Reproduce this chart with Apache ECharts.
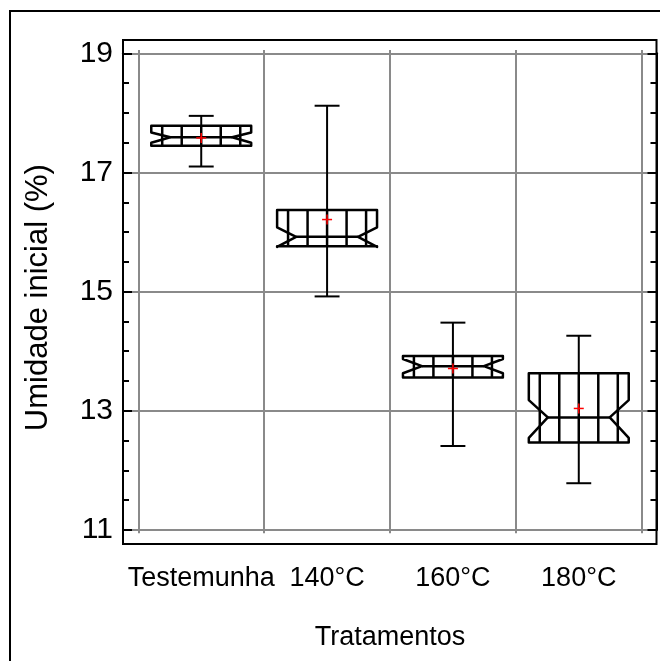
<!DOCTYPE html>
<html>
<head>
<meta charset="utf-8">
<script src="https://cdn.jsdelivr.net/npm/echarts@6/dist/echarts.min.js"></script>
<style>html,body{margin:0;padding:0;background:#fff}#c{width:660px;height:661px}</style>
</head>
<body>
<div id="c"></div>
<script>
const categories = ['Testemunha', '140°C', '160°C', '180°C'];
const whiskerLow  = [17.10, 14.92, 12.41, 11.785];
const q1          = [17.45, 15.76, 13.56, 12.47];
const notchLow    = [17.50, 15.75, 13.63, 12.545];
const median      = [17.59, 15.92, 13.75, 12.89];
const notchHigh   = [17.67, 16.08, 13.87, 13.18];
const q3          = [17.785, 16.37, 13.92, 13.63];
const whiskerHigh = [17.95, 18.12, 14.48, 14.26];
const means       = [17.58, 16.21, 13.71, 13.04];
const yMin = 11, yMax = 19, yStep = 2;
const xTitle = 'Tratamentos';
const yTitle = 'Umidade inicial (%)';

const FONT = "'Liberation Sans', Arial, sans-serif";
// layout
const plotL = 123, plotR = 656.5, plotT = 40, plotB = 544;
const axT = 53.3, axB = 530;            // pixel rows of yMax / yMin
const pxPerUnit = (axB - axT) / (yMax - yMin);
const ext = 3.3;                         // gridline overhang
const catL = 138.3, catR = 641.7;

const chart = echarts.init(document.getElementById('c'), null, {renderer: 'canvas'});
const data = categories.map((c, i) => [i, whiskerLow[i], q1[i], notchLow[i], median[i], notchHigh[i], q3[i], whiskerHigh[i], means[i]]);

function renderItem(params, api) {
  const i = api.value(0);
  const band = api.size([1, 0])[0];
  const cx = api.coord([i, api.value(4)])[0];
  const Y = k => api.coord([i, api.value(k)])[1];
  const wl = Y(1), a = Y(2), nl = Y(3), md = Y(4), nh = Y(5), b = Y(6), wh = Y(7), mn = Y(8);
  const hw = band * 0.397, tw = band * 0.246, cw = band * 0.099, hs = band * 0.155;
  const children = [];
  // whiskers
  children.push({type: 'line', shape: {x1: cx, y1: b, x2: cx, y2: wh}, style: {stroke: '#000', lineWidth: 2}});
  children.push({type: 'line', shape: {x1: cx, y1: a, x2: cx, y2: wl}, style: {stroke: '#000', lineWidth: 2}});
  children.push({type: 'line', shape: {x1: cx - cw, y1: wh, x2: cx + cw, y2: wh}, style: {stroke: '#000', lineWidth: 2}});
  children.push({type: 'line', shape: {x1: cx - cw, y1: wl, x2: cx + cw, y2: wl}, style: {stroke: '#000', lineWidth: 2}});
  // notched box
  children.push({type: 'polygon', shape: {points: [
    [cx - hw, b], [cx - hw, nh], [cx - tw, md], [cx - hw, nl], [cx - hw, a],
    [cx + hw, a], [cx + hw, nl], [cx + tw, md], [cx + hw, nh], [cx + hw, b]
  ]}, style: {fill: '#fff', stroke: '#000', lineWidth: 2.5, lineJoin: 'round'}});
  // hatch
  for (let k = -2; k <= 2; k++) {
    const x = cx + k * hs;
    children.push({type: 'line', shape: {x1: x, y1: b, x2: x, y2: a}, style: {stroke: '#000', lineWidth: 2.5}});
  }
  // median
  children.push({type: 'line', shape: {x1: cx - tw, y1: md, x2: cx + tw, y2: md}, style: {stroke: '#000', lineWidth: 2.5}});
  // mean
  children.push({type: 'line', shape: {x1: cx - 5, y1: mn, x2: cx + 5, y2: mn}, style: {stroke: '#ff0000', lineWidth: 1.5}});
  children.push({type: 'line', shape: {x1: cx, y1: mn - 5, x2: cx, y2: mn + 5}, style: {stroke: '#ff0000', lineWidth: 1.5}});
  return {type: 'group', children};
}

const option = {
  animation: false,
  backgroundColor: '#fff',
  grid: [
    {left: plotL, top: axT, width: plotR - plotL, height: axB - axT, containLabel: false},
    {left: catL, top: axT - ext, width: catR - catL, height: (axB - axT) + 2 * ext, containLabel: false}
  ],
  xAxis: [
    {gridIndex: 0, type: 'value', min: 0, max: 1, show: false},
    {gridIndex: 1, type: 'category', data: categories, boundaryGap: true,
      axisLine: {show: false}, axisTick: {show: false},
      splitLine: {show: true, lineStyle: {color: '#8a8a8a', width: 2}},
      axisLabel: {interval: 0, color: '#000', fontFamily: FONT, fontSize: 27, lineHeight: 27, margin: 32},
      name: xTitle, nameLocation: 'middle', nameGap: 91,
      nameTextStyle: {color: '#000', fontFamily: FONT, fontSize: 27, lineHeight: 27}
    }
  ],
  yAxis: [
    {gridIndex: 0, type: 'value', min: yMin, max: yMax, interval: yStep, position: 'left',
      axisLine: {show: true, lineStyle: {color: '#000', width: 2}},
      axisTick: {show: true, inside: true, length: 9, lineStyle: {color: '#000', width: 2}},
      minorTick: {show: true, splitNumber: 4, length: 6, lineStyle: {color: '#000', width: 2}},
      splitLine: {show: true, lineStyle: {color: '#8a8a8a', width: 2}},
      axisLabel: {color: '#000', fontFamily: FONT, fontSize: 30, margin: 10},
      name: yTitle, nameLocation: 'middle', nameRotate: 90, nameGap: 69,
      nameTextStyle: {color: '#000', fontFamily: FONT, fontSize: 31, lineHeight: 31, padding: [0, 12, 0, 0]}
    },
    {gridIndex: 0, type: 'value', min: yMin, max: yMax, interval: yStep, position: 'right',
      axisLine: {show: true, lineStyle: {color: '#000', width: 2}},
      axisTick: {show: true, inside: true, length: 9, lineStyle: {color: '#000', width: 2}},
      minorTick: {show: true, splitNumber: 4, length: 6, lineStyle: {color: '#000', width: 2}},
      splitLine: {show: false}, axisLabel: {show: false}
    },
    {gridIndex: 1, type: 'value', min: yMin - ext / pxPerUnit, max: yMax + ext / pxPerUnit, show: false}
  ],
  series: [{
    type: 'custom', xAxisIndex: 1, yAxisIndex: 2, renderItem,
    encode: {x: 0, y: [1, 2, 3, 4, 5, 6, 7, 8]}, data, z: 5
  }],
  graphic: [
    {type: 'rect', z: 100, silent: true, shape: {x: plotL, y: plotT, width: plotR - plotL, height: plotB - plotT},
      style: {fill: null, stroke: '#000', lineWidth: 2}},
    {type: 'rect', z: 100, silent: true, shape: {x: 10, y: 11, width: 700, height: 700},
      style: {fill: null, stroke: '#000', lineWidth: 2}}
  ]
};
chart.setOption(option);
</script>
</body>
</html>
